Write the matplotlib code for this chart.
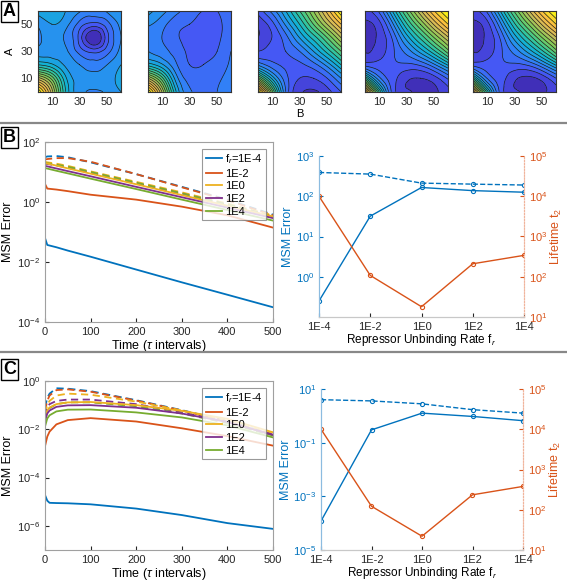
import numpy as np
import matplotlib
matplotlib.use('Agg')
import matplotlib.pyplot as plt
import matplotlib.tri as mtri
from matplotlib.colors import LinearSegmentedColormap
from matplotlib.lines import Line2D
from matplotlib.ticker import NullLocator

plt.rcParams['font.family'] = ['Liberation Sans', 'DejaVu Sans']
plt.rcParams['mathtext.fontset'] = 'custom'
plt.rcParams['mathtext.rm'] = 'Liberation Sans'
plt.rcParams['mathtext.it'] = 'Liberation Sans:italic'

# ---- Panel A: landscapes on a coarse grid (A rows, B columns)
grid_ab = [0, 10, 20, 30, 40, 50, 60]
land1 = [[1.00, 0.72, 0.40, 0.27, 0.24, 0.26, 0.30],
         [0.72, 0.58, 0.36, 0.28, 0.27, 0.28, 0.32],
         [0.40, 0.36, 0.29, 0.25, 0.22, 0.25, 0.30],
         [0.27, 0.28, 0.26, 0.18, 0.13, 0.18, 0.27],
         [0.23, 0.28, 0.24, 0.13, 0.00, 0.13, 0.25],
         [0.26, 0.30, 0.27, 0.18, 0.13, 0.18, 0.27],
         [0.32, 0.33, 0.30, 0.26, 0.22, 0.26, 0.30]]
land2 = [[1.00, 0.70, 0.36, 0.21, 0.18, 0.20, 0.22],
         [0.70, 0.52, 0.28, 0.18, 0.17, 0.19, 0.22],
         [0.38, 0.31, 0.21, 0.15, 0.15, 0.17, 0.21],
         [0.25, 0.22, 0.18, 0.14, 0.13, 0.15, 0.20],
         [0.22, 0.20, 0.16, 0.13, 0.12, 0.14, 0.18],
         [0.26, 0.22, 0.17, 0.15, 0.13, 0.14, 0.17],
         [0.32, 0.27, 0.22, 0.17, 0.15, 0.15, 0.17]]
land3 = [[1.00, 0.58, 0.20, 0.06, 0.04, 0.08, 0.15],
         [0.58, 0.34, 0.17, 0.10, 0.10, 0.15, 0.25],
         [0.24, 0.17, 0.14, 0.14, 0.18, 0.27, 0.40],
         [0.10, 0.12, 0.15, 0.20, 0.30, 0.42, 0.55],
         [0.05, 0.10, 0.18, 0.30, 0.42, 0.55, 0.70],
         [0.06, 0.13, 0.26, 0.40, 0.55, 0.70, 0.85],
         [0.12, 0.22, 0.35, 0.50, 0.65, 0.82, 1.00]]
land4 = [[0.90, 0.46, 0.13, 0.06, 0.03, 0.04, 0.08],
         [0.46, 0.22, 0.12, 0.06, 0.05, 0.08, 0.16],
         [0.13, 0.12, 0.14, 0.14, 0.16, 0.24, 0.36],
         [0.05, 0.07, 0.14, 0.22, 0.32, 0.44, 0.58],
         [0.03, 0.06, 0.16, 0.32, 0.46, 0.60, 0.74],
         [0.04, 0.08, 0.24, 0.44, 0.60, 0.76, 0.90],
         [0.08, 0.16, 0.36, 0.56, 0.74, 0.90, 1.00]]
land5 = [[0.86, 0.44, 0.13, 0.06, 0.03, 0.04, 0.08],
         [0.44, 0.20, 0.12, 0.06, 0.04, 0.07, 0.15],
         [0.13, 0.12, 0.14, 0.14, 0.16, 0.24, 0.36],
         [0.05, 0.07, 0.14, 0.22, 0.32, 0.44, 0.58],
         [0.03, 0.06, 0.16, 0.32, 0.46, 0.60, 0.74],
         [0.04, 0.08, 0.24, 0.44, 0.60, 0.76, 0.90],
         [0.08, 0.16, 0.36, 0.56, 0.74, 0.90, 1.00]]
landscapes = [land1, land2, land3, land4, land5]

# ---- Panels B/C left: MSM error vs time
t_B = [0, 5, 25, 50, 100, 200, 300, 400, 500]
B_solid = {
    '1E-4': [0.063, 0.037, 0.031, 0.024, 0.015, 0.0056, 0.0021, 0.00081, 0.00031],
    '1E-2': [4.0, 2.8, 2.6, 2.3, 1.75, 1.2, 0.7, 0.36, 0.14],
    '1E0': [20, 19.1, 16.3, 13.2, 8.8, 3.9, 1.7, 0.75, 0.33],
    '1E2': [16, 15.4, 13.1, 10.7, 7.2, 3.2, 1.44, 0.65, 0.29],
    '1E4': [13.5, 13.0, 11.0, 9.0, 6.0, 2.7, 1.2, 0.54, 0.24],
}
B_dashed = {
    '1E-4': [31, 33, 34, 31, 21, 8.5, 3.2, 1.2, 0.38],
    '1E-2': [26, 27, 29, 29, 22, 8.5, 3.1, 1.15, 0.36],
    '1E0': [22, 21, 19, 16, 10.5, 4.7, 2.1, 0.88, 0.36],
    '1E2': [19, 18.5, 16.5, 14, 9.5, 4.2, 1.9, 0.8, 0.33],
    '1E4': [20, 19.5, 17.5, 15, 10, 4.4, 1.95, 0.82, 0.33],
}
t_C = [0, 5, 10, 25, 50, 100, 200, 300, 400, 500]
C_solid = {
    '1E-4': [1.9e-5, 1.1e-5, 9e-6, 8.8e-6, 8.6e-6, 7.8e-6, 5.2e-6, 2.8e-6, 1.3e-6, 7.5e-7],
    '1E-2': [2.0e-3, 5e-3, 8e-3, 0.016, 0.024, 0.029, 0.021, 0.011, 0.0052, 0.0021],
    '1E0': [0.03, 0.06, 0.08, 0.11, 0.13, 0.135, 0.1, 0.058, 0.027, 0.0075],
    '1E2': [0.022, 0.045, 0.06, 0.085, 0.098, 0.1, 0.078, 0.045, 0.02, 0.0058],
    '1E4': [0.013, 0.028, 0.038, 0.055, 0.065, 0.066, 0.05, 0.031, 0.0145, 0.0046],
}
C_dashed = {
    '1E-4': [0.08, 0.2, 0.3, 0.5, 0.48, 0.38, 0.16, 0.062, 0.022, 0.006],
    '1E-2': [0.06, 0.15, 0.25, 0.42, 0.45, 0.36, 0.155, 0.06, 0.021, 0.0058],
    '1E0': [0.045, 0.1, 0.15, 0.25, 0.3, 0.27, 0.14, 0.06, 0.022, 0.0065],
    '1E2': [0.035, 0.08, 0.11, 0.15, 0.17, 0.17, 0.11, 0.05, 0.02, 0.006],
    '1E4': [0.025, 0.055, 0.075, 0.11, 0.13, 0.13, 0.09, 0.045, 0.018, 0.0055],
}

# ---- Panels B/C right: error and lifetime vs unbinding rate
rates = ['1E-4', '1E-2', '1E0', '1E2', '1E4']
B_err_dashed = [390, 355, 212, 200, 190]
B_err_solid = [0.25, 32, 165, 138, 126]
B_life = [10000, 108, 18, 210, 340]
C_err_dashed = [4.0, 3.6, 2.8, 1.7, 1.26]
C_err_solid = [1.2e-4, 0.3, 1.26, 0.95, 0.66]
C_life = [10000, 122, 22, 235, 380]

colors = ['#0072BD', '#D95319', '#EDB120', '#7E2F8E', '#77AC30']
parula = LinearSegmentedColormap.from_list('parula', [
    (0.00, '#3E26A8'), (0.11, '#4852F4'), (0.24, '#2E87F7'), (0.37, '#11B1D6'),
    (0.49, '#37C897'), (0.62, '#80CC59'), (0.75, '#D1BB59'), (0.87, '#FBBC41'),
    (1.00, '#F9FB0E')])

W, H = 567, 582
fig = plt.figure(figsize=(W / 100, H / 100), dpi=100)


def px_axes(x, y, w, h):
    return fig.add_axes([x / W, 1 - (y + h) / H, w / W, h / H])


def box_label(x, y, s):
    fig.text(x / W, 1 - y / H, s, fontsize=13, fontweight='bold', ha='left', va='top',
             bbox=dict(boxstyle='square,pad=0.12', fc='white', ec='black', lw=1))


def style_axes(ax):
    ax.tick_params(direction='in', length=3, labelsize=8, colors='#262626')
    for sp in ax.spines.values():
        sp.set_color('#a0a0a0')
        sp.set_linewidth(0.8)


# ---- Panel A (smoothed through matplotlib's cubic tri interpolator)
Bg, Ag = np.meshgrid(grid_ab, grid_ab)
tri = mtri.Triangulation(Bg.ravel(), Ag.ravel())
refiner = mtri.UniformTriRefiner(tri)
levels = np.linspace(0, 1, 21)
for i, (x0, Z) in enumerate(zip([38, 148, 258, 365, 473], landscapes)):
    z = np.array(Z).ravel()
    tri_f, z_f = refiner.refine_field(z, triinterpolator=mtri.CubicTriInterpolator(tri, z), subdiv=3)
    ax = px_axes(x0, 10.7, 83, 81)
    ax.tricontourf(tri_f, z_f, levels=levels, cmap=parula, extend='both')
    ax.tricontour(tri_f, z_f, levels=levels, colors='#1a1a1a', linewidths=0.5)
    ax.set_xlim(0, 60)
    ax.set_ylim(0, 60)
    ax.set_xticks([10, 30, 50])
    ax.tick_params(direction='in', length=0, labelsize=8, colors='#262626', pad=4)
    if i == 0:
        ax.set_yticks([10, 30, 50])
        ax.set_ylabel('A', fontsize=8, labelpad=4)
    else:
        ax.set_yticks([])
    if i == 2:
        ax.set_xlabel('B', fontsize=8, labelpad=1)
    for sp in ax.spines.values():
        sp.set_color('#333333')
        sp.set_linewidth(0.8)
box_label(3, 3, 'A')

# separators
for y in [123, 352]:
    fig.add_artist(Line2D([0, 1], [1 - y / H, 1 - y / H], transform=fig.transFigure,
                          color='#888888', lw=1.6))


def left_panel(ax, t, solid, dashed, ylim, yticks):
    for c, k in zip(colors, dashed):
        ax.plot(t, dashed[k], '--', color=c, lw=1.3, dashes=(4, 2.5))
    handles = []
    for c, k in zip(colors, solid):
        h, = ax.plot(t, solid[k], '-', color=c, lw=1.3)
        handles.append(h)
    ax.set_yscale('log')
    ax.set_ylim(*ylim)
    ax.set_yticks(yticks)
    ax.yaxis.set_minor_locator(NullLocator())
    ax.set_xlim(0, 500)
    ax.set_xticks([0, 100, 200, 300, 400, 500])
    style_axes(ax)
    ax.set_ylabel('MSM Error', fontsize=9, labelpad=2)
    ax.set_xlabel(r'Time ($\tau$ intervals)', fontsize=9, labelpad=1)
    labels = ['f$_{r}$=1E-4', '1E-2', '1E0', '1E2', '1E4']
    leg = ax.legend(handles, labels, loc='upper right', fontsize=8, frameon=True,
                    fancybox=False, edgecolor='#808080', handlelength=1.5, handletextpad=0.25,
                    labelspacing=0.25, borderaxespad=0.6, borderpad=0.3)
    leg.get_frame().set_linewidth(0.8)


def right_panel(ax, err_dashed, err_solid, life, ylim, yticks):
    x = np.arange(len(rates))
    ax.plot(x, err_dashed, '--o', color=colors[0], lw=1, ms=3, mfc='none', mew=0.8)
    ax.plot(x, err_solid, '-o', color=colors[0], lw=1, ms=3, mfc='none', mew=0.8)
    ax.set_yscale('log')
    ax.set_ylim(*ylim)
    ax.set_yticks(yticks)
    ax.yaxis.set_minor_locator(NullLocator())
    ax.set_xlim(0, len(rates) - 1)
    ax.set_xticks(x)
    ax.set_xticklabels(rates)
    ax.tick_params(direction='in', length=3, labelsize=8, colors='#262626')
    ax.tick_params(axis='y', colors=colors[0])
    ax.set_ylabel('MSM Error', fontsize=9, color=colors[0], labelpad=1)
    ax.set_xlabel('Repressor Unbinding Rate f$_r$', fontsize=8.5, labelpad=0)
    ax2 = ax.twinx()
    ax2.plot(x, life, '-o', color=colors[1], lw=1, ms=3, mfc='none', mew=0.8)
    ax2.set_yscale('log')
    ax2.set_ylim(10, 1e5)
    ax2.set_yticks([10, 100, 1000, 1e4, 1e5])
    ax2.yaxis.set_minor_locator(NullLocator())
    ax2.tick_params(direction='in', length=3, labelsize=8, colors=colors[1])
    ax2.set_ylabel('Lifetime t$_2$', fontsize=9, color=colors[1], labelpad=1)
    for a in (ax, ax2):
        a.spines['top'].set_visible(False)
        a.spines['bottom'].set_color('#c8c8c8')
        a.spines['left'].set_color('#8cbce0')
        a.spines['right'].set_color('#f0b49c')
        a.spines['right'].set_linestyle(':')
        for sp in a.spines.values():
            sp.set_linewidth(0.8)


# ---- Panel B
ax = px_axes(45, 142, 228, 180)
left_panel(ax, t_B, B_solid, B_dashed, (1e-4, 1e2), [1e-4, 1e-2, 1e0, 1e2])
ax = px_axes(319, 156, 205, 161)
right_panel(ax, B_err_dashed, B_err_solid, B_life, (0.1, 1000), [1, 10, 100, 1000])
box_label(3, 129, 'B')

# ---- Panel C
ax = px_axes(45, 381, 228, 169)
left_panel(ax, t_C, C_solid, C_dashed, (1e-7, 1e0), [1e-6, 1e-4, 1e-2, 1e0])
ax = px_axes(321, 389, 202, 161)
right_panel(ax, C_err_dashed, C_err_solid, C_life, (1e-5, 10), [1e-5, 1e-3, 1e-1, 10])
box_label(3, 361, 'C')

fig.savefig('out.png', dpi=100)
